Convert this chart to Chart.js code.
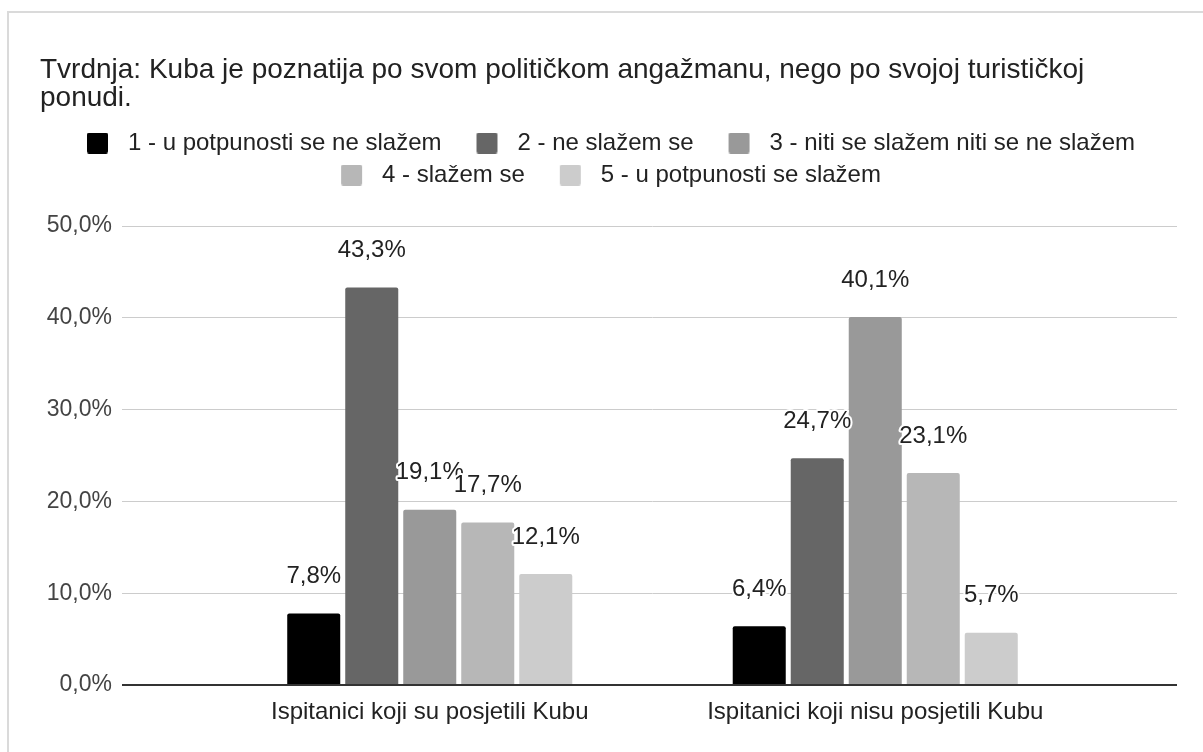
<!DOCTYPE html>
<html lang="hr">
<head>
<meta charset="UTF-8">
<title>Kuba - politički angažman</title>
<script src="https://cdn.jsdelivr.net/npm/chart.js"></script>
<style>
  html, body { margin: 0; padding: 0; background: #fff; overflow: hidden; }
  #frame { position: absolute; left: 7px; top: 11px; border-top: 2px solid #dadada; border-left: 2px solid #dadada; }
  canvas { display: block; }
</style>
</head>
<body>
<div id="frame"><canvas id="kubaChart" width="1206" height="739"></canvas></div>
<script>
const categories = ['Ispitanici koji su posjetili Kubu', 'Ispitanici koji nisu posjetili Kubu'];
const answers = [
  '1 - u potpunosti se ne slažem',
  '2 - ne slažem se',
  '3 - niti se slažem niti se ne slažem',
  '4 - slažem se',
  '5 - u potpunosti se slažem'
];
const visited = [7.8, 43.3, 19.1, 17.7, 12.1];
const notVisited = [6.4, 24.7, 40.1, 23.1, 5.7];
const yTicks = [0, 10, 20, 30, 40, 50];
const colors = ['#000000', '#666666', '#999999', '#b7b7b7', '#cccccc'];

const pct = v => v.toFixed(1).replace('.', ',') + '%';

Chart.defaults.font.family = '"Liberation Sans", Arial, sans-serif';
Chart.defaults.font.size = 24;
Chart.defaults.color = '#222';

// legend swatch: left spacing, 21px box, gap before the text
function swatch(color) {
  const c = document.createElement('canvas');
  c.width = 56;
  c.height = 21;
  const g = c.getContext('2d');
  g.fillStyle = color;
  g.beginPath();
  if (g.roundRect) g.roundRect(27, 0, 21, 21, 2); else g.rect(27, 0, 21, 21);
  g.fill();
  return c;
}
const swatches = colors.map(swatch);

// extra room between the legend and the plot, rows re-centred
const legendGap = {
  id: 'legendGap',
  beforeInit(chart) {
    const fit = chart.legend.fit;
    chart.legend.fit = function () {
      fit.call(this);
      this.height += 29;
    };
  },
  afterLayout(chart) {
    chart.legend.right -= 22;
  }
};

// percentage above every bar, with a white halo
const valueLabels = {
  id: 'valueLabels',
  afterDatasetsDraw(chart) {
    const ctx = chart.ctx;
    ctx.save();
    ctx.font = '24px "Liberation Sans", Arial, sans-serif';
    ctx.textAlign = 'center';
    ctx.textBaseline = 'middle';
    ctx.lineJoin = 'round';
    ctx.lineWidth = 4;
    ctx.strokeStyle = '#fff';
    ctx.fillStyle = '#222';
    chart.data.datasets.forEach((ds, i) => {
      chart.getDatasetMeta(i).data.forEach((bar, j) => {
        const text = pct(ds.data[j]);
        const y = bar.y - 37;
        ctx.strokeText(text, bar.x, y);
        ctx.fillText(text, bar.x, y);
      });
    });
    ctx.restore();
  }
};

const setTicks = scale => { scale.ticks = yTicks.map(value => ({ value })); };
const gridColor = c => (c.tick && c.tick.value === 0 ? '#333' : '#cccccc');
const gridWidth = c => (c.tick && c.tick.value === 0 ? 2 : 1);

new Chart(document.getElementById('kubaChart'), {
  type: 'bar',
  data: {
    labels: categories,
    datasets: answers.map((label, i) => ({
      label: label,
      data: [visited[i], notVisited[i]],
      backgroundColor: colors[i],
      borderRadius: 2,
      barPercentage: 0.914,
      categoryPercentage: 0.651
    }))
  },
  options: {
    responsive: false,
    animation: false,
    layout: { padding: { left: 31, right: 38, bottom: 13 } },
    plugins: {
      title: {
        display: true,
        align: 'start',
        text: [
          'Tvrdnja: Kuba je poznatija po svom političkom angažmanu, nego po svojoj turističkoj',
          'ponudi.'
        ],
        font: { size: 28, weight: 'normal', lineHeight: 1.0 },
        color: '#222',
        padding: { top: 43, bottom: 11 }
      },
      legend: {
        labels: {
          usePointStyle: true,
          pointStyleWidth: 56,
          padding: 8,
          color: '#222',
          generateLabels(chart) {
            return Chart.defaults.plugins.legend.labels.generateLabels(chart)
              .map((item, i) => ({ ...item, pointStyle: swatches[i] }));
          }
        }
      },
      tooltip: { enabled: false }
    },
    scales: {
      x: {
        grid: { display: false, drawTicks: false },
        border: { display: false },
        ticks: { padding: 12.6, color: '#222', autoSkip: false, maxRotation: 0 }
      },
      y: {
        min: 0,
        max: 50,
        afterBuildTicks: setTicks,
        afterFit: scale => { scale.width = 167; },
        ticks: { callback: v => pct(v), color: '#444', padding: 10, font: { size: 23 } },
        grid: { color: gridColor, lineWidth: gridWidth, tickLength: 85 },
        border: { display: false }
      },
      yRight: {
        position: 'right',
        min: 0,
        max: 50,
        afterBuildTicks: setTicks,
        afterFit: scale => { scale.width = 79; },
        ticks: { display: false },
        grid: { drawOnChartArea: false, color: gridColor, lineWidth: gridWidth, tickLength: 79 },
        border: { display: false }
      }
    }
  },
  plugins: [legendGap, valueLabels]
});
</script>
</body>
</html>
